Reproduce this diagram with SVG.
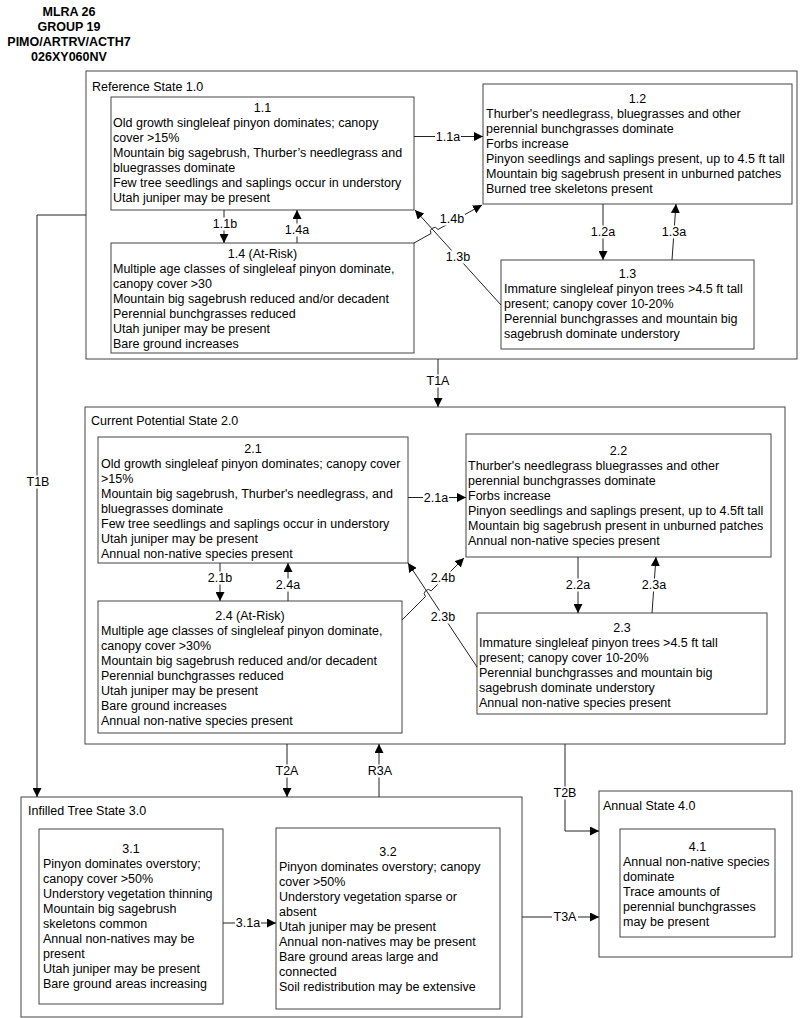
<svg xmlns="http://www.w3.org/2000/svg" width="800" height="1018" viewBox="0 0 800 1018">
<style>
text{font-family:"Liberation Sans",Arial,sans-serif;font-size:12.5px;fill:#000}
.hdr{font-weight:bold;text-anchor:middle}
.state{fill:#fff;stroke:#444;stroke-width:1}
.box{fill:#fff;stroke:#444;stroke-width:1}
.c{text-anchor:middle}
.ln{fill:none;stroke:#222;stroke-width:1}
.arr{marker-end:url(#ah)}
.lbl{text-anchor:middle;dominant-baseline:central}
.bg{fill:#fff}
</style>
<defs>
<marker id="ah" viewBox="0 0 10 10" refX="10" refY="5" markerWidth="9" markerHeight="9" markerUnits="userSpaceOnUse" orient="auto">
<path d="M0,0 L10,5 L0,10 z" fill="#000"/>
</marker>
</defs>
<rect width="800" height="1018" fill="#fff"/>
<g id="header">
<text class="hdr" x="69" y="15.5">MLRA 26</text>
<text class="hdr" x="69" y="30.5">GROUP 19</text>
<text class="hdr" x="69" y="45.5">PIMO/ARTRV/ACTH7</text>
<text class="hdr" x="69" y="60.5">026XY060NV</text>
</g>
<g id="state1">
<rect class="state" x="86" y="71" width="711" height="288"/>
<text x="92" y="90.5">Reference State 1.0</text>
</g>
<g id="state2">
<rect class="state" x="85" y="407" width="700" height="337"/>
<text x="91" y="424.5">Current Potential State 2.0</text>
</g>
<g id="state3">
<rect class="state" x="21" y="797" width="501" height="220"/>
<text x="28" y="815">Infilled Tree State 3.0</text>
</g>
<g id="state4">
<rect class="state" x="599" y="791" width="193" height="166"/>
<text x="603" y="809.5">Annual State 4.0</text>
</g>
<g id="n1_1">
<rect class="box" x="111" y="97" width="303" height="113"/>
<text class="c" x="262.5" y="111.5">1.1</text>
<text x="113" y="126.5">Old growth singleleaf pinyon dominates; canopy<tspan x="113" dy="15">cover &gt;15%</tspan><tspan x="113" dy="15">Mountain big sagebrush, Thurber’s needlegrass and</tspan><tspan x="113" dy="15">bluegrasses dominate</tspan><tspan x="113" dy="15">Few tree seedlings and saplings occur in understory</tspan><tspan x="113" dy="15">Utah juniper may be present</tspan></text>
</g>
<g id="n1_4">
<rect class="box" x="111" y="243" width="303" height="110"/>
<text class="c" x="262.5" y="257.5">1.4 (At-Risk)</text>
<text x="113" y="272.5">Multiple age classes of singleleaf pinyon dominate,<tspan x="113" dy="15">canopy cover &gt;30</tspan><tspan x="113" dy="15">Mountain big sagebrush reduced and/or decadent</tspan><tspan x="113" dy="15">Perennial bunchgrasses reduced</tspan><tspan x="113" dy="15">Utah juniper may be present</tspan><tspan x="113" dy="15">Bare ground increases</tspan></text>
</g>
<g id="n1_2">
<rect class="box" x="483" y="84" width="309" height="120"/>
<text class="c" x="637.5" y="102.5">1.2</text>
<text x="486" y="117.5">Thurber's needlegrass, bluegrasses and other<tspan x="486" dy="15">perennial bunchgrasses dominate</tspan><tspan x="486" dy="15">Forbs increase</tspan><tspan x="486" dy="15">Pinyon seedlings and saplings present, up to 4.5 ft tall</tspan><tspan x="486" dy="15">Mountain big sagebrush present in unburned patches</tspan><tspan x="486" dy="15">Burned tree skeletons present</tspan></text>
</g>
<g id="n1_3">
<rect class="box" x="501" y="260" width="253" height="89"/>
<text class="c" x="627.5" y="277.5">1.3</text>
<text x="504" y="292.5">Immature singleleaf pinyon trees &gt;4.5 ft tall<tspan x="504" dy="15">present; canopy cover 10-20%</tspan><tspan x="504" dy="15">Perennial bunchgrasses and mountain big</tspan><tspan x="504" dy="15">sagebrush dominate understory</tspan></text>
</g>
<g id="n2_1">
<rect class="box" x="98" y="437" width="310" height="126"/>
<text class="c" x="253" y="452.5">2.1</text>
<text x="101" y="467.5">Old growth singleleaf pinyon dominates; canopy cover<tspan x="101" dy="15">&gt;15%</tspan><tspan x="101" dy="15">Mountain big sagebrush, Thurber's needlegrass, and</tspan><tspan x="101" dy="15">bluegrasses dominate</tspan><tspan x="101" dy="15">Few tree seedlings and saplings occur in understory</tspan><tspan x="101" dy="15">Utah juniper may be present</tspan><tspan x="101" dy="15">Annual non-native species present</tspan></text>
</g>
<g id="n2_4">
<rect class="box" x="98" y="601" width="304" height="132"/>
<text class="c" x="250" y="619.5">2.4 (At-Risk)</text>
<text x="101" y="634.5">Multiple age classes of singleleaf pinyon dominate,<tspan x="101" dy="15">canopy cover &gt;30%</tspan><tspan x="101" dy="15">Mountain big sagebrush reduced and/or decadent</tspan><tspan x="101" dy="15">Perennial bunchgrasses reduced</tspan><tspan x="101" dy="15">Utah juniper may be present</tspan><tspan x="101" dy="15">Bare ground increases</tspan><tspan x="101" dy="15">Annual non-native species present</tspan></text>
</g>
<g id="n2_2">
<rect class="box" x="466" y="434" width="305" height="123"/>
<text class="c" x="618.5" y="454.5">2.2</text>
<text x="468" y="469.5">Thurber's needlegrass bluegrasses and other<tspan x="468" dy="15">perennial bunchgrasses dominate</tspan><tspan x="468" dy="15">Forbs increase</tspan><tspan x="468" dy="15">Pinyon seedlings and saplings present, up to 4.5ft tall</tspan><tspan x="468" dy="15">Mountain big sagebrush present in unburned patches</tspan><tspan x="468" dy="15">Annual non-native species present</tspan></text>
</g>
<g id="n2_3">
<rect class="box" x="477" y="613" width="290" height="101"/>
<text class="c" x="622" y="631.5">2.3</text>
<text x="479" y="646.5">Immature singleleaf pinyon trees &gt;4.5 ft tall<tspan x="479" dy="15">present; canopy cover 10-20%</tspan><tspan x="479" dy="15">Perennial bunchgrasses and mountain big</tspan><tspan x="479" dy="15">sagebrush dominate understory</tspan><tspan x="479" dy="15">Annual non-native species present</tspan></text>
</g>
<g id="n3_1">
<rect class="box" x="39" y="829" width="184" height="175"/>
<text class="c" x="131" y="852.5">3.1</text>
<text x="43" y="867.5">Pinyon dominates overstory;<tspan x="43" dy="15">canopy cover &gt;50%</tspan><tspan x="43" dy="15">Understory vegetation thinning</tspan><tspan x="43" dy="15">Mountain big sagebrush</tspan><tspan x="43" dy="15">skeletons common</tspan><tspan x="43" dy="15">Annual non-natives may be</tspan><tspan x="43" dy="15">present</tspan><tspan x="43" dy="15">Utah juniper may be present</tspan><tspan x="43" dy="15">Bare ground areas increasing</tspan></text>
</g>
<g id="n3_2">
<rect class="box" x="276" y="828" width="224" height="181"/>
<text class="c" x="388" y="855.5">3.2</text>
<text x="279" y="870.5">Pinyon dominates overstory; canopy<tspan x="279" dy="15">cover &gt;50%</tspan><tspan x="279" dy="15">Understory vegetation sparse or</tspan><tspan x="279" dy="15">absent</tspan><tspan x="279" dy="15">Utah juniper may be present</tspan><tspan x="279" dy="15">Annual non-natives may be present</tspan><tspan x="279" dy="15">Bare ground areas large and</tspan><tspan x="279" dy="15">connected</tspan><tspan x="279" dy="15">Soil redistribution may be extensive</tspan></text>
</g>
<g id="n4_1">
<rect class="box" x="620" y="829" width="155" height="108"/>
<text class="c" x="697.5" y="850.5">4.1</text>
<text x="623" y="865.5">Annual non-native species<tspan x="623" dy="15">dominate</tspan><tspan x="623" dy="15">Trace amounts of</tspan><tspan x="623" dy="15">perennial bunchgrasses</tspan><tspan x="623" dy="15">may be present</tspan></text>
</g>
<g id="connectors">
<path class="ln arr" d="M414,136.5 H483"/>
<rect class="bg" x="435" y="130" width="26" height="13"/>
<text class="lbl" x="448" y="136.5">1.1a</text>
<path class="ln arr" d="M224,210 V243"/>
<rect class="bg" x="212" y="217.5" width="26" height="13"/>
<text class="lbl" x="225" y="224">1.1b</text>
<path class="ln arr" d="M297,243 V210"/>
<rect class="bg" x="284" y="223.5" width="26" height="13"/>
<text class="lbl" x="297" y="230">1.4a</text>
<path class="ln arr" d="M501,305 L415,210"/>
<rect class="bg" x="445" y="250.5" width="26" height="13"/>
<text class="lbl" x="458" y="257">1.3b</text>
<path class="ln arr" d="M414,243 L431,233.5 A4,4 0 0 1 438,229.5 L482,205"/>
<rect class="bg" x="439" y="212.5" width="26" height="13"/>
<text class="lbl" x="452" y="219">1.4b</text>
<path class="ln arr" d="M603,204 V260"/>
<rect class="bg" x="590" y="225.5" width="26" height="13"/>
<text class="lbl" x="603" y="232">1.2a</text>
<path class="ln arr" d="M672,260 L676,204"/>
<rect class="bg" x="661" y="225.5" width="26" height="13"/>
<text class="lbl" x="674" y="232">1.3a</text>
<path class="ln arr" d="M438,359 V407"/>
<rect class="bg" x="425" y="374.5" width="26" height="13"/>
<text class="lbl" x="438" y="381">T1A</text>
<path class="ln arr" d="M86,215 H37 V797"/>
<rect class="bg" x="25" y="475.5" width="26" height="13"/>
<text class="lbl" x="38" y="482">T1B</text>
<path class="ln arr" d="M408,497.5 H466"/>
<rect class="bg" x="423" y="491" width="26" height="13"/>
<text class="lbl" x="436" y="497.5">2.1a</text>
<path class="ln arr" d="M220,563 V601"/>
<rect class="bg" x="207" y="571.5" width="26" height="13"/>
<text class="lbl" x="220" y="578">2.1b</text>
<path class="ln arr" d="M288,601 V563"/>
<rect class="bg" x="275" y="578.5" width="26" height="13"/>
<text class="lbl" x="288" y="585">2.4a</text>
<path class="ln arr" d="M477,667 L408,563"/>
<rect class="bg" x="430" y="610.5" width="26" height="13"/>
<text class="lbl" x="443" y="617">2.3b</text>
<path class="ln arr" d="M402,620 L425.5,596.5 A4,4 0 0 1 431.2,590.8 L464,558"/>
<rect class="bg" x="430" y="571.5" width="26" height="13"/>
<text class="lbl" x="443" y="578">2.4b</text>
<path class="ln arr" d="M578,557 V613"/>
<rect class="bg" x="565" y="578.5" width="26" height="13"/>
<text class="lbl" x="578" y="585">2.2a</text>
<path class="ln arr" d="M652,613 L656,557"/>
<rect class="bg" x="641" y="578.5" width="26" height="13"/>
<text class="lbl" x="654" y="585">2.3a</text>
<path class="ln arr" d="M287,744 V797"/>
<rect class="bg" x="274" y="764.5" width="26" height="13"/>
<text class="lbl" x="287" y="771">T2A</text>
<path class="ln arr" d="M379,797 V744"/>
<rect class="bg" x="367" y="764.5" width="26" height="13"/>
<text class="lbl" x="380" y="771">R3A</text>
<path class="ln arr" d="M565,744 V831 H599"/>
<rect class="bg" x="552" y="786.5" width="26" height="13"/>
<text class="lbl" x="565" y="793">T2B</text>
<path class="ln arr" d="M522,917 H599"/>
<rect class="bg" x="552" y="910.5" width="26" height="13"/>
<text class="lbl" x="565" y="917">T3A</text>
<path class="ln arr" d="M223,923 H276"/>
<rect class="bg" x="235" y="916.5" width="26" height="13"/>
<text class="lbl" x="248" y="923">3.1a</text>
</g>
</svg>
